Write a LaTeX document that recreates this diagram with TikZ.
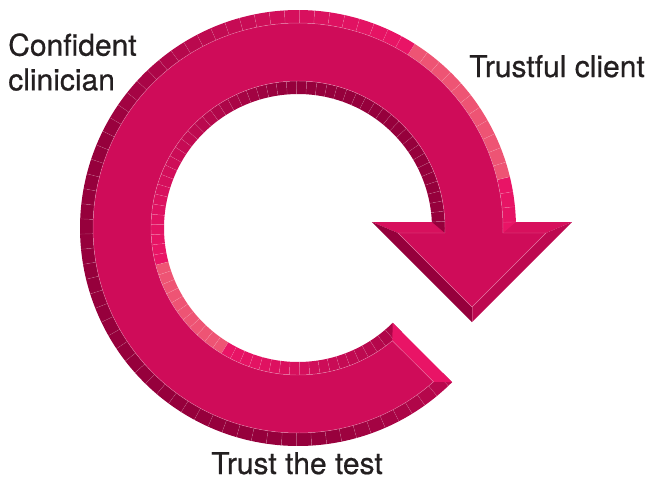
\documentclass[tikz,border=0pt]{standalone}
\usepackage{fontspec}
\setmainfont{TeX Gyre Heros}
\newfontfamily\lblfont{TeX Gyre Heros}[FakeBold=0.6]
\definecolor{face}{RGB}{207,12,89}
\definecolor{bevdark}{RGB}{150,0,60}
\definecolor{bevbright}{RGB}{233,20,102}
\definecolor{bevlight}{RGB}{238,84,116}
\definecolor{txt}{RGB}{35,31,32}

\begin{document}
\begin{tikzpicture}[x=0.75pt,y=0.75pt]
	\tikzstyle{label}=[inner sep=0pt, text=txt, align=left, font=\lblfont\fontsize{22.5}{26}\selectfont]
	\tikzstyle{tick}=[white, opacity=0.22, line width=0.3pt]
	\tikzstyle{rim}=[white, opacity=0.35, line width=0.35pt]
	\useasboundingbox (-298,-252) rectangle (353,228);
	
	% arrow head, three sides
	\fill[bevbright!78!bevdark] (74,6) -- (274,6) -- (248,-5) -- (100,-5) -- cycle;
	\fill[bevbright!47!bevdark] (274,6) -- (174,-94) -- (174,-79) -- (248,-5) -- cycle;
	\fill[bevdark] (174,-94) -- (74,6) -- (100,-5) -- (174,-79) -- cycle;
	\draw[tick] (174,-94) -- (174,-79);
	
	% ends of the sides under the head
	\fill[bevbright] (1.6:218) -- (205,-5) -- (1.6:205) -- cycle;
	\fill[bevdark] (2.6:134) -- (147,-5) -- (2.6:147) -- cycle;
	
	% outer side
	\foreach \i in {0,...,78}{
		\pgfmathsetmacro\a{1.6+4*\i}
		\pgfmathsetmacro\b{min(\a+4,315)}
		\pgfmathsetmacro\f{cos((\a+\b)/2-36)}
		\pgfmathtruncatemacro\t{max(0,min(100,(\f+0.5)*100/1.4))}
		\ifdim\f pt>0.93pt \def\col{bevlight}\else\edef\col{bevbright!\t!bevdark}\fi
		\fill[\col] (\a:218) arc[start angle=\a, end angle=\b, radius=218] -- (\b:205) arc[start angle=\b, end angle=\a, radius=205] -- cycle;
		\draw[tick] (\a:218) -- (\a:205);
	}
	
	% inner side
	\foreach \i in {0,...,78}{
		\pgfmathsetmacro\a{2.6+4*\i}
		\pgfmathsetmacro\b{min(\a+4,315)}
		\pgfmathsetmacro\f{-cos((\a+\b)/2-36)}
		\pgfmathtruncatemacro\t{max(0,min(100,(\f+0.5)*100/1.4))}
		\ifdim\f pt>0.93pt \def\col{bevlight}\else\edef\col{bevbright!\t!bevdark}\fi
		\fill[\col] (\a:134) arc[start angle=\a, end angle=\b, radius=134] -- (\b:147) arc[start angle=\b, end angle=\a, radius=147] -- cycle;
		\draw[tick] (\a:134) -- (\a:147);
	}
	
	% tail end
	\fill[bevbright] (315:218) -- (311.4:205) -- (309.9:147) -- (315:134) -- cycle;
	
	% front face
	\fill[face] (100,-5) -- (-1.95:147) arc[start angle=-1.95, end angle=309.9, radius=147] -- (311.4:205) arc[start angle=311.4, end angle=-1.4, radius=205] -- (248,-5) -- (174,-79) -- cycle;
	\draw[rim] (100,-5) -- (-1.95:147) arc[start angle=-1.95, end angle=309.9, radius=147] -- (311.4:205) arc[start angle=311.4, end angle=-1.4, radius=205] -- (248,-5) -- (174,-79) -- cycle;
	
	\node[label, anchor=north west] (clinician) at (-290,195) {Confident\\clinician};
	\node[label, anchor=base west] (client) at (171,151) {Trustful client};
	\node[label, anchor=base] (test) at (-1,-246) {Trust the test};
\end{tikzpicture}
\end{document}
